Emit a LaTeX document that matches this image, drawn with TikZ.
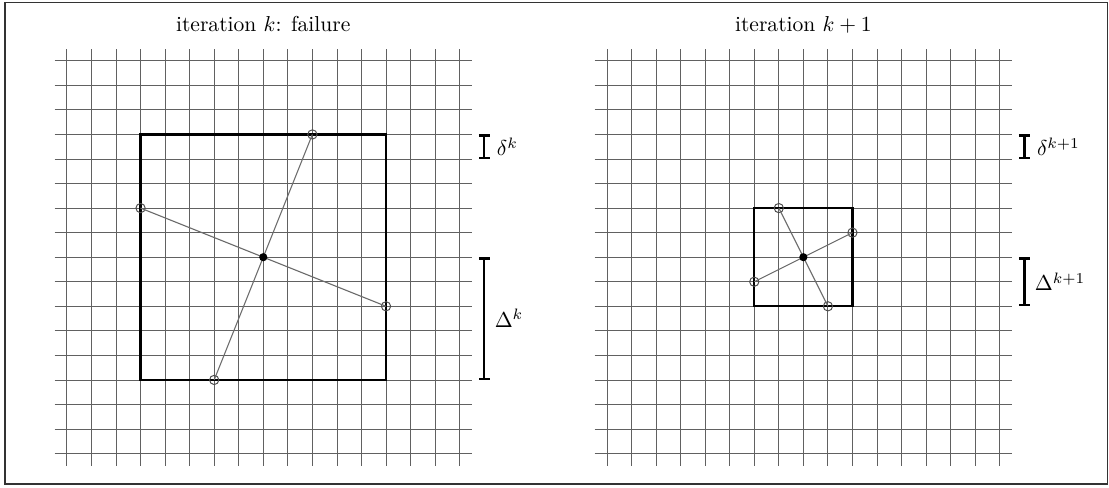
\documentclass[tikz,border=0pt]{standalone}
\usepackage{amsmath,amssymb}
\usepackage{tikz}
\usetikzlibrary{positioning,arrows.meta}

\tikzset{
  gridline/.style={line width=0.4pt,black!62},
  meshbox/.style={line width=1.1pt,black},
  pollline/.style={line width=0.5pt,black!58},
  pollpt/.style={circle,draw=black!70,line width=0.45pt,inner sep=0pt,minimum size=4.3pt},
  incumbent/.style={circle,fill=black,inner sep=0pt,minimum size=3.8pt},
  sizebar/.style={line width=1.1pt,{Bar[width=5pt]}-{Bar[width=5pt]}},
}

\begin{document}
\begin{tikzpicture}[x=0.4cm,y=0.4cm]
\useasboundingbox (-10.725,-9.362) rectangle (34.45,10.477);
\draw[line width=0.5pt,black!80] (-10.52,-9.24) rectangle (34.38,10.37);
% iteration k
\node[anchor=base] (titleL) at (0,9.2) {iteration $k$: failure};
\draw[gridline] (-8,-8.5) -- (-8,8.5);
\draw[gridline] (-7,-8.5) -- (-7,8.5);
\draw[gridline] (-6,-8.5) -- (-6,8.5);
\draw[gridline] (-5,-8.5) -- (-5,8.5);
\draw[gridline] (-4,-8.5) -- (-4,8.5);
\draw[gridline] (-3,-8.5) -- (-3,8.5);
\draw[gridline] (-2,-8.5) -- (-2,8.5);
\draw[gridline] (-1,-8.5) -- (-1,8.5);
\draw[gridline] (0,-8.5) -- (0,8.5);
\draw[gridline] (1,-8.5) -- (1,8.5);
\draw[gridline] (2,-8.5) -- (2,8.5);
\draw[gridline] (3,-8.5) -- (3,8.5);
\draw[gridline] (4,-8.5) -- (4,8.5);
\draw[gridline] (5,-8.5) -- (5,8.5);
\draw[gridline] (6,-8.5) -- (6,8.5);
\draw[gridline] (7,-8.5) -- (7,8.5);
\draw[gridline] (8,-8.5) -- (8,8.5);
\draw[gridline] (-8.5,-8) -- (8.5,-8);
\draw[gridline] (-8.5,-7) -- (8.5,-7);
\draw[gridline] (-8.5,-6) -- (8.5,-6);
\draw[gridline] (-8.5,-5) -- (8.5,-5);
\draw[gridline] (-8.5,-4) -- (8.5,-4);
\draw[gridline] (-8.5,-3) -- (8.5,-3);
\draw[gridline] (-8.5,-2) -- (8.5,-2);
\draw[gridline] (-8.5,-1) -- (8.5,-1);
\draw[gridline] (-8.5,0) -- (8.5,0);
\draw[gridline] (-8.5,1) -- (8.5,1);
\draw[gridline] (-8.5,2) -- (8.5,2);
\draw[gridline] (-8.5,3) -- (8.5,3);
\draw[gridline] (-8.5,4) -- (8.5,4);
\draw[gridline] (-8.5,5) -- (8.5,5);
\draw[gridline] (-8.5,6) -- (8.5,6);
\draw[gridline] (-8.5,7) -- (8.5,7);
\draw[gridline] (-8.5,8) -- (8.5,8);
\draw[meshbox] (-5,-5) rectangle (5,5);
\coordinate (xk) at (0,0);
\node[pollpt] (pk1) at (-5,2) {};
\node[pollpt] (pk2) at (2,5) {};
\node[pollpt] (pk3) at (5,-2) {};
\node[pollpt] (pk4) at (-2,-5) {};
\draw[pollline] (xk) -- (pk1.center);
\draw[pollline] (xk) -- (pk2.center);
\draw[pollline] (xk) -- (pk3.center);
\draw[pollline] (xk) -- (pk4.center);
\node[incumbent] (xkdot) at (xk) {};
\coordinate (smallL1) at (9,5);
\coordinate (smallL2) at (9,4);
\coordinate (bigL1) at (9,0);
\coordinate (bigL2) at (9,-5);
\draw[sizebar] (smallL1) -- (smallL2) node[midway,right=2pt] (dk) {$\delta^k$};
\draw[sizebar] (bigL1) -- (bigL2) node[midway,right=1pt] (Dk) {$\Delta^k$};
% iteration k+1
\node[anchor=base] (titleR) at (22,9.2) {iteration $k+1$};
\draw[gridline] (14,-8.5) -- (14,8.5);
\draw[gridline] (15,-8.5) -- (15,8.5);
\draw[gridline] (16,-8.5) -- (16,8.5);
\draw[gridline] (17,-8.5) -- (17,8.5);
\draw[gridline] (18,-8.5) -- (18,8.5);
\draw[gridline] (19,-8.5) -- (19,8.5);
\draw[gridline] (20,-8.5) -- (20,8.5);
\draw[gridline] (21,-8.5) -- (21,8.5);
\draw[gridline] (22,-8.5) -- (22,8.5);
\draw[gridline] (23,-8.5) -- (23,8.5);
\draw[gridline] (24,-8.5) -- (24,8.5);
\draw[gridline] (25,-8.5) -- (25,8.5);
\draw[gridline] (26,-8.5) -- (26,8.5);
\draw[gridline] (27,-8.5) -- (27,8.5);
\draw[gridline] (28,-8.5) -- (28,8.5);
\draw[gridline] (29,-8.5) -- (29,8.5);
\draw[gridline] (30,-8.5) -- (30,8.5);
\draw[gridline] (13.5,-8) -- (30.5,-8);
\draw[gridline] (13.5,-7) -- (30.5,-7);
\draw[gridline] (13.5,-6) -- (30.5,-6);
\draw[gridline] (13.5,-5) -- (30.5,-5);
\draw[gridline] (13.5,-4) -- (30.5,-4);
\draw[gridline] (13.5,-3) -- (30.5,-3);
\draw[gridline] (13.5,-2) -- (30.5,-2);
\draw[gridline] (13.5,-1) -- (30.5,-1);
\draw[gridline] (13.5,0) -- (30.5,0);
\draw[gridline] (13.5,1) -- (30.5,1);
\draw[gridline] (13.5,2) -- (30.5,2);
\draw[gridline] (13.5,3) -- (30.5,3);
\draw[gridline] (13.5,4) -- (30.5,4);
\draw[gridline] (13.5,5) -- (30.5,5);
\draw[gridline] (13.5,6) -- (30.5,6);
\draw[gridline] (13.5,7) -- (30.5,7);
\draw[gridline] (13.5,8) -- (30.5,8);
\draw[meshbox] (20,-2) rectangle (24,2);
\coordinate (xkk) at (22,0);
\node[pollpt] (pkk1) at (21,2) {};
\node[pollpt] (pkk2) at (24,1) {};
\node[pollpt] (pkk3) at (23,-2) {};
\node[pollpt] (pkk4) at (20,-1) {};
\draw[pollline] (xkk) -- (pkk1.center);
\draw[pollline] (xkk) -- (pkk2.center);
\draw[pollline] (xkk) -- (pkk3.center);
\draw[pollline] (xkk) -- (pkk4.center);
\node[incumbent] (xkkdot) at (xkk) {};
\coordinate (smallR1) at (31,5);
\coordinate (smallR2) at (31,4);
\coordinate (bigR1) at (31,0);
\coordinate (bigR2) at (31,-2);
\draw[sizebar] (smallR1) -- (smallR2) node[midway,right=2pt] (dkk) {$\delta^{k+1}$};
\draw[sizebar] (bigR1) -- (bigR2) node[midway,right=1pt] (Dkk) {$\Delta^{k+1}$};
\end{tikzpicture}
\end{document}
